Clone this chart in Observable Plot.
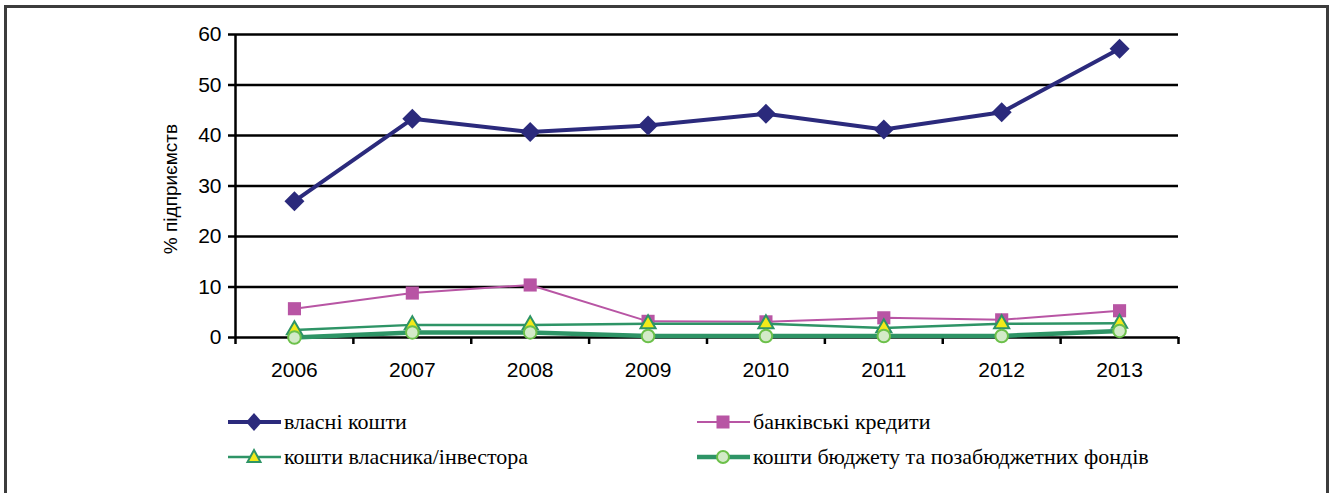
<!DOCTYPE html>
<html>
<head>
<meta charset="utf-8">
<script src="https://cdn.jsdelivr.net/npm/d3@7"></script>
<script src="https://cdn.jsdelivr.net/npm/@observablehq/plot@0.6"></script>
<style>
  html, body { margin: 0; padding: 0; background: #fff; width: 1336px; height: 493px; overflow: hidden; }
  #frame { position: absolute; left: 4px; top: 5px; width: 1325px; height: 520px; border: 3px solid #3c3c3c; box-sizing: border-box; }
  #chart { position: absolute; left: 0; top: 0; }
  .leg { position: absolute; font-family: "Liberation Serif", "Times New Roman", serif; font-size: 22px; color: #000; white-space: nowrap; }
  .leg svg { position: absolute; left: 0; top: 0; }
  .leg span { position: absolute; left: 56px; top: 0; line-height: 26px; }
</style>
</head>
<body>
<div id="frame"></div>
<div id="chart"></div>
<div id="legend"></div>
<script>
// ---- data ----
const years = [2006, 2007, 2008, 2009, 2010, 2011, 2012, 2013];
const ownFunds = [27.0, 43.3, 40.7, 42.0, 44.3, 41.2, 44.6, 57.2];
const bankCredits = [5.7, 8.8, 10.4, 3.2, 3.1, 3.9, 3.5, 5.3];
const ownerInvestor = [1.5, 2.5, 2.5, 2.7, 2.7, 1.9, 2.7, 2.8];
const budgetFunds = [0.0, 1.0, 1.0, 0.3, 0.3, 0.3, 0.3, 1.3];
const yTicks = [0, 10, 20, 30, 40, 50, 60];
const seriesNames = ["власні кошти", "банківські кредити", "кошти власника/інвестора", "кошти бюджету та позабюджетних фондів"];
const yLabel = "% підприємств";

const rows = years.map((year, i) => ({
  year, own: ownFunds[i], bank: bankCredits[i], owner: ownerInvestor[i], budget: budgetFunds[i]
}));
const boundaries = years.map(y => y - 0.5).concat([years[years.length - 1] + 0.5]);

const C = {
  own: "#2b2a7c", bank: "#b855a4", green: "#2e9466", yellow: "#f2ea1a",
  circleFill: "#d3eac8", circleStroke: "#6cc04a"
};

const chart = Plot.plot({
  width: 1336,
  height: 385,
  marginLeft: 235,
  marginRight: 158,
  marginTop: 34,
  marginBottom: 48,
  x: { type: "linear", domain: [years[0] - 0.5, years[years.length - 1] + 0.5] },
  y: { domain: [0, 60] },
  style: { fontFamily: "'Liberation Sans', Arial, sans-serif", fontSize: "21px", color: "#000", background: "transparent", overflow: "visible" },
  marks: [
    Plot.gridY(yTicks, { stroke: "#000", strokeOpacity: 1, strokeWidth: 2.5 }),
    Plot.ruleX([years[0] - 0.5], { stroke: "#000", strokeWidth: 2.5 }),
    Plot.axisY(yTicks, { tickSize: 7, tickPadding: 7, strokeWidth: 2.5, fontSize: 21, label: null }),
    Plot.axisX(boundaries, { tickSize: 7, strokeWidth: 2.5, tickFormat: () => "", label: null }),
    Plot.axisX(years, { tickSize: 0, tickPadding: 25, tickFormat: d => String(d), fontSize: 21, label: null }),
    Plot.text([yLabel], { frameAnchor: "left", textAnchor: "middle", dx: -65, dy: 3, rotate: -90, fontSize: 19 }),
    // series 1
    Plot.line(rows, { x: "year", y: "own", stroke: C.own, strokeWidth: 4 }),
    Plot.dot(rows, { x: "year", y: "own", symbol: "diamond2", r: 9, fill: C.own, stroke: "none" }),
    // series 2
    Plot.line(rows, { x: "year", y: "bank", stroke: C.bank, strokeWidth: 2 }),
    Plot.dot(rows, { x: "year", y: "bank", symbol: "square", r: 7.4, fill: C.bank, stroke: "none" }),
    // series 3
    Plot.line(rows, { x: "year", y: "owner", stroke: C.green, strokeWidth: 2.5 }),
    Plot.dot(rows, { x: "year", y: "owner", symbol: "triangle", r: 5.6, fill: C.yellow, stroke: C.green, strokeWidth: 2 }),
    // series 4
    Plot.line(rows, { x: "year", y: "budget", stroke: C.green, strokeWidth: 4.5 }),
    Plot.dot(rows, { x: "year", y: "budget", symbol: "circle", r: 6.3, fill: C.circleFill, stroke: C.circleStroke, strokeWidth: 2 })
  ]
});
document.getElementById("chart").appendChild(chart);

// ---- legend ----
const legendItems = [
  { name: seriesNames[0], x: 228, y: 409, line: C.own, lw: 4, sym: "diamond" },
  { name: seriesNames[1], x: 697, y: 409, line: C.bank, lw: 2, sym: "square" },
  { name: seriesNames[2], x: 228, y: 444, line: C.green, lw: 2.5, sym: "triangle" },
  { name: seriesNames[3], x: 697, y: 444, line: C.green, lw: 4.5, sym: "circle" }
];
const legend = d3.select("#legend");
legendItems.forEach(it => {
  const div = legend.append("div").attr("class", "leg").style("left", it.x + "px").style("top", it.y + "px");
  const svg = div.append("svg").attr("width", 56).attr("height", 26);
  const cy = 13, cx = 26;
  svg.append("line").attr("x1", 0).attr("x2", 53).attr("y1", cy).attr("y2", cy).attr("stroke", it.line).attr("stroke-width", it.lw);
  if (it.sym === "diamond") {
    svg.append("path").attr("d", `M${cx},${cy - 9}L${cx + 8},${cy}L${cx},${cy + 9}L${cx - 8},${cy}Z`).attr("fill", C.own);
  } else if (it.sym === "square") {
    svg.append("rect").attr("x", cx - 6.5).attr("y", cy - 6.5).attr("width", 13).attr("height", 13).attr("fill", C.bank);
  } else if (it.sym === "triangle") {
    svg.append("path").attr("d", `M${cx},${cy - 7}L${cx + 6.5},${cy + 5}L${cx - 6.5},${cy + 5}Z`).attr("fill", C.yellow).attr("stroke", C.green).attr("stroke-width", 2);
  } else {
    svg.append("circle").attr("cx", cx).attr("cy", cy).attr("r", 6).attr("fill", C.circleFill).attr("stroke", C.circleStroke).attr("stroke-width", 2);
  }
  div.append("span").text(it.name);
});
</script>
</body>
</html>
